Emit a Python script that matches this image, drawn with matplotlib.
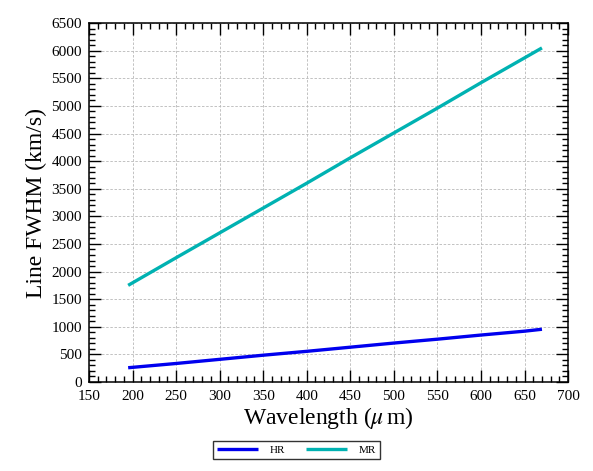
import matplotlib
matplotlib.use("Agg")
import matplotlib.pyplot as plt
from matplotlib.ticker import MultipleLocator

plt.rcParams['font.family'] = ['Liberation Serif', 'DejaVu Serif']
plt.rcParams['mathtext.fontset'] = 'stix'

# values
wavelength = [195, 250, 300, 350, 400, 450, 500, 550, 600, 650, 670]
fwhm_hr = [258, 335, 410, 485, 555, 630, 705, 775, 850, 920, 955]
fwhm_mr = [1750, 2250, 2700, 3150, 3600, 4060, 4510, 4960, 5420, 5870, 6050]

fig = plt.figure(figsize=(5.93, 4.71), dpi=100)
ax = fig.add_axes([0.150, 0.189, 0.808, 0.762])

ax.plot(wavelength, fwhm_hr, color='#0000ee', lw=2.4, label='HR', solid_capstyle='butt')
ax.plot(wavelength, fwhm_mr, color='#00b2b2', lw=2.4, label='MR', solid_capstyle='butt')

ax.set_xlim(150, 700)
ax.set_ylim(0, 6500)
ax.xaxis.set_major_locator(MultipleLocator(50))
ax.xaxis.set_minor_locator(MultipleLocator(10))
ax.yaxis.set_major_locator(MultipleLocator(500))
ax.yaxis.set_minor_locator(MultipleLocator(100))

ax.tick_params(which='both', direction='in', top=True, right=True, width=1.0, labelsize=11)
ax.tick_params(which='major', length=8.5)
ax.tick_params(which='minor', length=4.3)
ax.tick_params(axis='x', which='major', pad=6)
ax.tick_params(axis='y', which='major', pad=5)
for s in ax.spines.values():
    s.set_linewidth(1.1)

ax.grid(True, which='major', color='#b8b8b8', linestyle=(0, (3, 2)), linewidth=0.6)

ax.set_xlabel(r'Wavelength ($\mu\,$m)', fontsize=17, labelpad=1)
ax.set_ylabel('Line FWHM (km/s)', fontsize=17, labelpad=3)

fig.legend(loc='center', bbox_to_anchor=(0.5, 0.045), ncol=2, fontsize=8,
           frameon=True, fancybox=False, edgecolor='black', handlelength=3.7,
           handletextpad=1.1, columnspacing=1.8, borderpad=0.35)

fig.savefig('out.png', dpi=100)
